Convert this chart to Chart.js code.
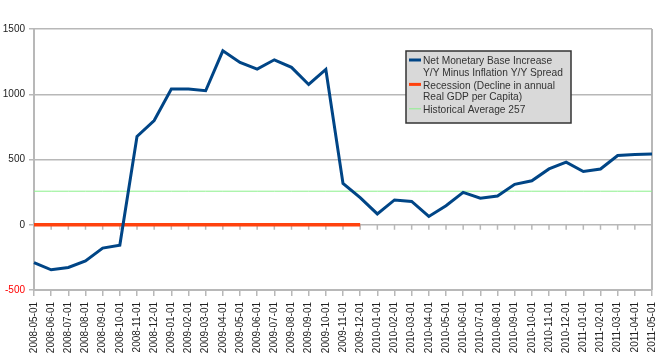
<!DOCTYPE html>
<html>
<head>
<meta charset="utf-8">
<script src="https://cdn.jsdelivr.net/npm/chart.js@4/dist/chart.umd.min.js"></script>
<style>
  html, body { margin: 0; padding: 0; background: #fff; }
  #wrap { width: 662px; height: 361px; }
</style>
</head>
<body>
<div id="wrap"><canvas id="grafico"></canvas></div>
<script>
const months = [
  "2008-05-01", "2008-06-01", "2008-07-01", "2008-08-01", "2008-09-01", "2008-10-01",
  "2008-11-01", "2008-12-01", "2009-01-01", "2009-02-01", "2009-03-01", "2009-04-01",
  "2009-05-01", "2009-06-01", "2009-07-01", "2009-08-01", "2009-09-01", "2009-10-01",
  "2009-11-01", "2009-12-01", "2010-01-01", "2010-02-01", "2010-03-01", "2010-04-01",
  "2010-05-01", "2010-06-01", "2010-07-01", "2010-08-01", "2010-09-01", "2010-10-01",
  "2010-11-01", "2010-12-01", "2011-01-01", "2011-02-01", "2011-03-01", "2011-04-01",
  "2011-05-01",
];

// Net Monetary Base Increase Y/Y minus Inflation Y/Y spread
const netBase = [
  -290, -345, -327, -278, -179, -156, 677, 799, 1040, 1040, 1027, 1333,
  1244, 1193, 1264, 1206, 1075, 1190, 317, 208, 83, 190, 179, 64,
  146, 248, 204, 220, 310, 337, 428, 480, 408, 427, 531, 539,
  542,
];

// recession marker (sits on zero)
const recession = [
  0, 0, 0, 0, 0, 0, 0, 0, 0, 0, 0, 0,
  0, 0, 0, 0, 0, 0, 0, 0, null, null, null, null,
  null, null, null, null, null, null, null, null, null, null, null, null,
  null,
];

const historicalAverage = 257;
const yTicks = [-500, 0, 500, 1000, 1500];

const legendItems = [
  { lines: ["Net Monetary Base Increase", "Y/Y Minus Inflation Y/Y Spread"], color: "#004586", width: 3 },
  { lines: ["Recession (Decline in annual", "Real GDP per Capita)"], color: "#ff420e", width: 3 },
  { lines: ["Historical Average 257"], color: "#8cf08c", width: 1 },
];

const gris = "#b8b8b8";

// marco derecho, marcas en el cero y leyenda dentro del area
const extras = {
  id: "extras",
  beforeDatasetsDraw(chart) {
    const { ctx, chartArea, scales } = chart;
    ctx.save();
    ctx.strokeStyle = gris;
    ctx.lineWidth = 2;
    ctx.beginPath();
    ctx.moveTo(chartArea.right, chartArea.top);
    ctx.lineTo(chartArea.right, chartArea.bottom);
    ctx.stroke();
    // marcas del eje x en y=0
    const y0 = scales.y.getPixelForValue(0);
    ctx.lineWidth = 1.5;
    months.forEach((m, i) => {
      const x = scales.x.getPixelForValue(i);
      ctx.beginPath();
      ctx.moveTo(x, y0);
      ctx.lineTo(x, y0 + 5);
      ctx.stroke();
    });
    ctx.restore();
  },
  afterDraw(chart) {
    const ctx = chart.ctx;
    const bx = 406, by = 51, bw = 165, bh = 72;
    ctx.save();
    ctx.fillStyle = "#d9d9d9";
    ctx.fillRect(bx, by, bw, bh);
    ctx.strokeStyle = "#333";
    ctx.lineWidth = 1.5;
    ctx.strokeRect(bx, by, bw, bh);
    ctx.font = "10.2px 'Liberation Sans', Arial, sans-serif";
    ctx.fillStyle = "#333";
    ctx.textBaseline = "middle";
    let y = by + 10.5;
    legendItems.forEach((item) => {
      ctx.strokeStyle = item.color;
      ctx.lineWidth = item.width;
      ctx.beginPath();
      ctx.moveTo(bx + 3, y - 1.5);
      ctx.lineTo(bx + 15, y - 1.5);
      ctx.stroke();
      item.lines.forEach((t) => {
        ctx.fillText(t, bx + 17, y);
        y += 11.4;
      });
      y += 1.6;
    });
    ctx.restore();
  },
};

new Chart(document.getElementById("grafico"), {
  type: "line",
  data: {
    labels: months,
    datasets: [
      {
        label: "Net Monetary Base Increase Y/Y Minus Inflation Y/Y Spread",
        data: netBase,
        borderColor: "#004586",
        borderWidth: 3,
        pointRadius: 0,
        tension: 0,
      },
      {
        label: "Recession (Decline in annual Real GDP per Capita)",
        data: recession,
        borderColor: "#ff420e",
        borderWidth: 3.5,
        pointRadius: 0,
        spanGaps: false,
      },
      {
        label: "Historical Average 257",
        data: months.map(() => historicalAverage),
        borderColor: "#8cf08c",
        borderWidth: 1,
        pointRadius: 0,
      },
    ],
  },
  options: {
    responsive: true,
    maintainAspectRatio: false,
    animation: false,
    layout: { padding: { top: 29, right: 10, left: 0, bottom: 0 } },
    plugins: {
      legend: { display: false },
      tooltip: { enabled: false },
    },
    scales: {
      x: {
        offset: false,
        afterFit(scale) {
          scale.height = 71;
          scale.paddingLeft = 0;
          scale.paddingRight = 0;
        },
        grid: { drawOnChartArea: false, color: gris, tickLength: 6, lineWidth: 1.5 },
        border: { color: gris, width: 2 },
        ticks: {
          autoSkip: false,
          maxRotation: 90,
          minRotation: 90,
          padding: 6,
          color: "#222",
          font: { family: "'Liberation Sans', Arial, sans-serif", size: 10 },
        },
      },
      y: {
        min: -500,
        max: 1500,
        afterFit(scale) { scale.width = 34; },
        afterBuildTicks(scale) { scale.ticks = yTicks.map((v) => ({ value: v })); },
        grid: { color: gris, lineWidth: 1.5, tickLength: 5 },
        border: { color: gris, width: 2 },
        ticks: {
          padding: 4,
          callback: (v) => String(v),
          color: (c) => (c.tick && c.tick.value < 0 ? "#ff0000" : "#222"),
          font: { family: "'Liberation Sans', Arial, sans-serif", size: 10 },
        },
      },
    },
  },
  plugins: [extras],
});
</script>
</body>
</html>
